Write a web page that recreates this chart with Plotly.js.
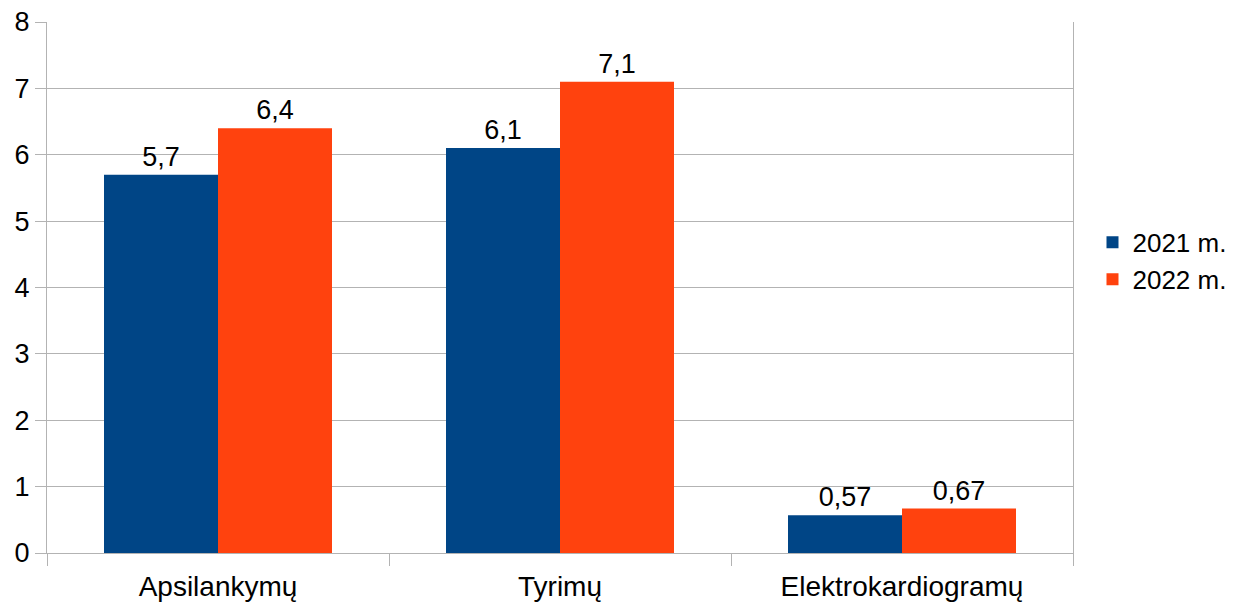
<!DOCTYPE html>
<html>
<head>
<meta charset="utf-8">
<script src="https://cdn.plot.ly/plotly-3.0.1.min.js"></script>
<style>html,body{margin:0;padding:0;background:#fff;}#chart{width:1234px;height:603px;}</style>
</head>
<body>
<div id="chart"></div>
<script>
const categories = ["Apsilankymų", "Tyrimų", "Elektrokardiogramų"];
const values2021 = [5.7, 6.1, 0.57];
const values2022 = [6.4, 7.1, 0.67];
const seriesNames = ["2021 m.", "2022 m."];
const yTicks = [0, 1, 2, 3, 4, 5, 6, 7, 8];

const fmt = v => String(v).replace('.', ',');
const font = {family: "Liberation Sans, Arial, sans-serif", size: 27, color: "#000"};

const traces = [
  {type: "bar", name: seriesNames[0], x: categories, y: values2021, marker: {color: "#004586"},
   text: values2021.map(fmt), textposition: "outside", cliponaxis: false, textfont: font, hoverinfo: "none"},
  {type: "bar", name: seriesNames[1], x: categories, y: values2022, marker: {color: "#ff420e"},
   text: values2022.map(fmt), textposition: "outside", cliponaxis: false, textfont: font, hoverinfo: "none"}
];

const layout = {
  width: 1234, height: 603,
  margin: {l: 47, r: 161, t: 22, b: 50, autoexpand: false},
  paper_bgcolor: "#fff", plot_bgcolor: "#fff",
  font: font,
  bargap: 1/3, bargroupgap: 0, barmode: "group",
  showlegend: true,
  legend: {x: 1.019, xanchor: "left", y: 0.55, yanchor: "middle", font: {family: font.family, size: 26, color: "#000"}, itemwidth: 30, tracegroupgap: 0},
  xaxis: {
    type: "category", tickson: "boundaries", ticks: "outside", ticklen: 12, tickcolor: "#b3b3b3", tickwidth: 1,
    showline: true, linecolor: "#b3b3b3", linewidth: 1, showgrid: false, tickfont: {family: font.family, size: 28, color: "#000"},
    ticklabelstandoff: 8, fixedrange: true
  },
  yaxis: {
    range: [0, 8], tickvals: yTicks, ticktext: yTicks.map(String), ticks: "outside", ticklen: 11,
    tickcolor: "#b3b3b3", showline: true, mirror: true, linecolor: "#b3b3b3", linewidth: 1,
    showgrid: true, gridcolor: "#b3b3b3", gridwidth: 1, zeroline: false, tickfont: font, fixedrange: true
  }
};

Plotly.newPlot("chart", traces, layout, {displayModeBar: false, staticPlot: true});
</script>
</body>
</html>
